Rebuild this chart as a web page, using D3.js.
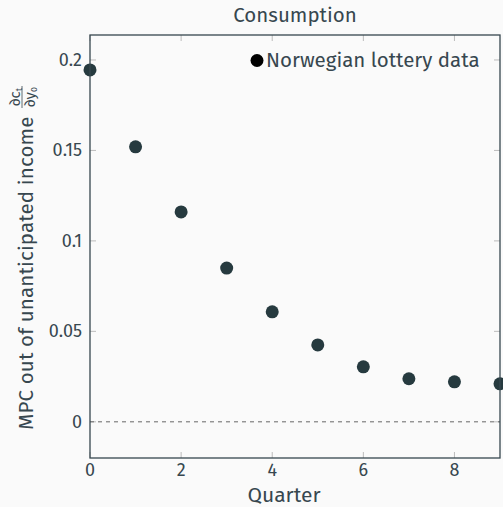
<!DOCTYPE html>
<html><head><meta charset="utf-8">
<script src="https://cdn.jsdelivr.net/npm/d3@7/dist/d3.min.js"></script>
<style>
html,body{margin:0;padding:0;background:#fafafa;}
svg{display:block;font-family:"Fira Sans","Open Sans","Noto Sans",sans-serif;}
</style></head>
<body>
<svg id="c" width="503" height="507"></svg>
<script>
const quarters = [0,1,2,3,4,5,6,7,8,9];
const mpc = [0.1945,0.152,0.116,0.085,0.0608,0.0425,0.0304,0.0238,0.0221,0.021];
const xTicks = [0,2,4,6,8];
const yTicks = [0,0.05,0.1,0.15,0.2];
const yTickLabels = ["0","0.05","0.1","0.15","0.2"];
const title = "Consumption";
const seriesName = "Norwegian lottery data";

const svg = d3.select("#c");
const L=90, R=500, T=35, B=458;
const x = d3.scaleLinear().domain([0,9]).range([L,R]);
const y = d3.scaleLinear().domain([-0.02,0.2138]).range([B,T]);
const axisCol="#37474f", tickCol="#bbbbbb", txtCol="#37474f", ptCol="#263a3f";

svg.append("rect").attr("width",503).attr("height",507).attr("fill","#fafafa");

const tl=6;
xTicks.forEach(t=>{
  svg.append("line").attr("x1",x(t)).attr("x2",x(t)).attr("y1",B).attr("y2",B-tl).attr("stroke",tickCol);
  svg.append("line").attr("x1",x(t)).attr("x2",x(t)).attr("y1",T).attr("y2",T+tl).attr("stroke",tickCol);
  svg.append("text").attr("x",x(t)).attr("y",B+18).attr("text-anchor","middle").attr("font-size",18).attr("fill",txtCol).text(t);
});
yTicks.forEach((t,i)=>{
  svg.append("line").attr("x1",L).attr("x2",L+tl).attr("y1",y(t)).attr("y2",y(t)).attr("stroke",tickCol);
  svg.append("line").attr("x1",R).attr("x2",R-tl).attr("y1",y(t)).attr("y2",y(t)).attr("stroke",tickCol);
  svg.append("text").attr("x",L-8).attr("y",y(t)+6).attr("text-anchor","end").attr("font-size",18).attr("fill",txtCol).text(yTickLabels[i]);
});

svg.append("line").attr("x1",L).attr("x2",R).attr("y1",y(0)).attr("y2",y(0))
  .attr("stroke","#666").attr("stroke-width",1).attr("stroke-dasharray","4,4");

const g = svg.append("g");
g.selectAll("circle").data(quarters).join("circle")
  .attr("cx",d=>x(d)).attr("cy",(d,i)=>y(mpc[i])).attr("r",6.5).attr("fill",ptCol);

svg.append("rect").attr("x",L).attr("y",T).attr("width",R-L).attr("height",B-T)
  .attr("fill","none").attr("stroke",axisCol).attr("stroke-width",1.3);

svg.append("text").attr("x",295).attr("y",22).attr("text-anchor","middle").attr("font-size",20.5).attr("fill",txtCol).text(title);

svg.append("circle").attr("cx",257).attr("cy",60.5).attr("r",6.5).attr("fill","#000");
svg.append("text").attr("x",266).attr("y",67).attr("font-size",20.5).attr("fill",txtCol).text(seriesName);

svg.append("text").attr("x",284).attr("y",502).attr("text-anchor","middle").attr("font-size",21).attr("fill",txtCol).text("Quarter");

const yl = svg.append("g").attr("transform","translate(33,0) rotate(-90)");
yl.append("text").attr("x",-273).attr("y",0).attr("text-anchor","middle").attr("font-size",20.5).attr("letter-spacing",0.15).attr("fill",txtCol).text("MPC out of unanticipated income");
const fx = -97;
const num = yl.append("text").attr("x",fx).attr("y",-13).attr("text-anchor","middle").attr("font-size",15).attr("fill",txtCol);
num.append("tspan").text("∂c");
num.append("tspan").attr("font-size",9).attr("dy",2).text("t");
yl.append("line").attr("x1",fx-11).attr("x2",fx+11).attr("y1",-11).attr("y2",-11).attr("stroke",txtCol).attr("stroke-width",0.8);
const den = yl.append("text").attr("x",fx).attr("y",2).attr("text-anchor","middle").attr("font-size",15).attr("fill",txtCol);
den.append("tspan").text("∂y");
den.append("tspan").attr("font-size",9).attr("dy",2).text("0");
</script>
</body></html>
